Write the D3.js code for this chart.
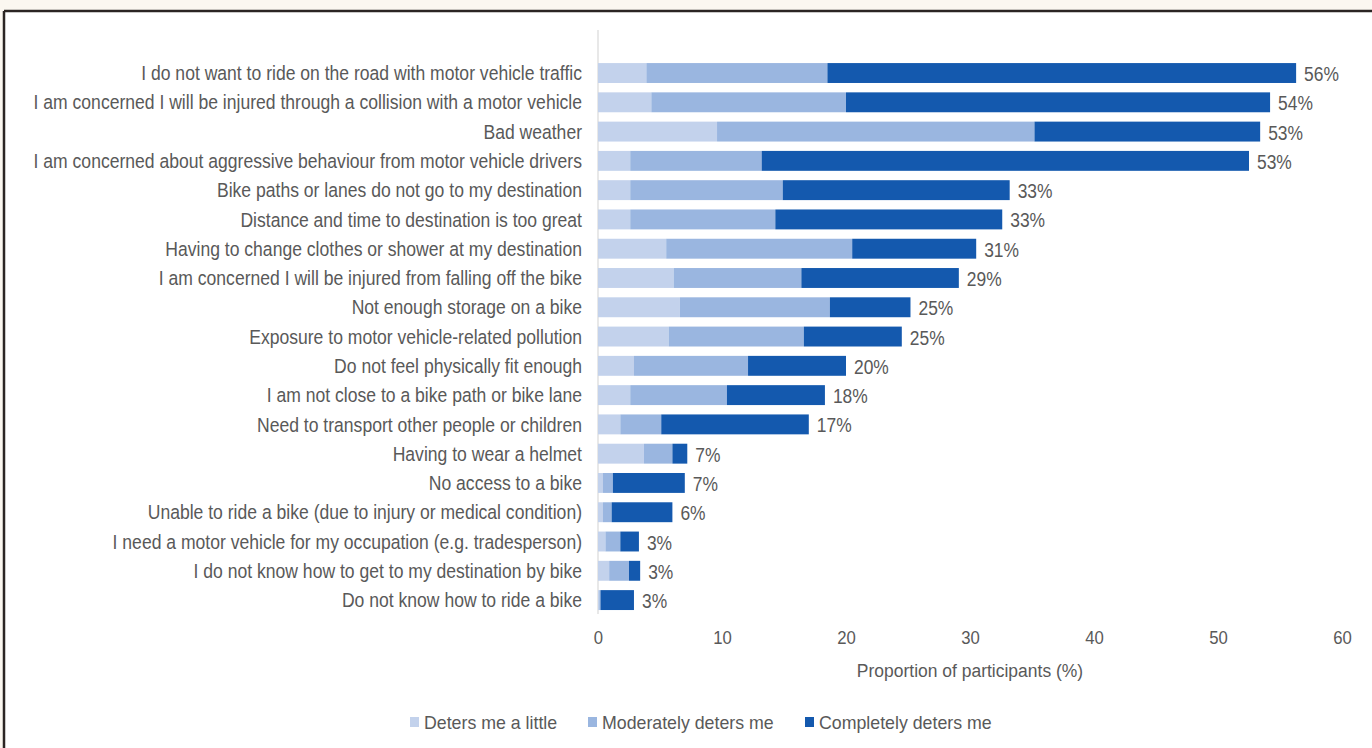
<!DOCTYPE html>
<html>
<head>
<meta charset="utf-8">
<script src="https://cdn.jsdelivr.net/npm/d3@7"></script>
<style>
  html, body { margin: 0; padding: 0; background: #fbf7f0; }
  svg text { font-family: "Liberation Sans", Arial, sans-serif; fill: #595959; }
</style>
</head>
<body>
<svg id="chart" width="1372" height="748"></svg>
<script>
// categories, top to bottom
var categories = [
  "I do not want to ride on the road with motor vehicle traffic",
  "I am concerned I will be injured through a collision with a motor vehicle",
  "Bad weather",
  "I am concerned about aggressive behaviour from motor vehicle drivers",
  "Bike paths or lanes do not go to my destination",
  "Distance and time to destination is too great",
  "Having to change clothes or shower at my destination",
  "I am concerned I will be injured from falling off the bike",
  "Not enough storage on a bike",
  "Exposure to motor vehicle-related pollution",
  "Do not feel physically fit enough",
  "I am not close to a bike path or bike lane",
  "Need to transport other people or children",
  "Having to wear a helmet",
  "No access to a bike",
  "Unable to ride a bike (due to injury or medical condition)",
  "I need a motor vehicle for my occupation (e.g. tradesperson)",
  "I do not know how to get to my destination by bike",
  "Do not know how to ride a bike"
];
var seriesNames = ["Deters me a little", "Moderately deters me", "Completely deters me"];
var little     = [3.9, 4.3, 9.6, 2.6, 2.6, 2.6, 5.5, 6.1, 6.6, 5.7, 2.9, 2.6, 1.8, 3.7, 0.4, 0.4, 0.6, 0.9, 0.1];
var moderately = [14.6, 15.7, 25.6, 10.6, 12.3, 11.7, 15.0, 10.3, 12.1, 10.9, 9.2, 7.8, 3.3, 2.3, 0.8, 0.7, 1.2, 1.6, 0.1];
var completely = [37.8, 34.2, 18.2, 39.3, 18.3, 18.3, 10.0, 12.7, 6.5, 7.9, 7.9, 7.9, 11.9, 1.2, 5.8, 4.9, 1.5, 0.9, 2.7];
var totalLabels = ["56%", "54%", "53%", "53%", "33%", "33%", "31%", "29%", "25%", "25%", "20%", "18%", "17%", "7%", "7%", "6%", "3%", "3%", "3%"];
var xTicks = [0, 10, 20, 30, 40, 50, 60];

var colors = ["#c3d2ec", "#9ab6e0", "#1459ae"];

var svg = d3.select("#chart");

// the source font is a condensed sans, squeeze Liberation Sans to match
function squeeze(sel, x, y, sx) {
  sel.attr("transform", "translate(" + x + "," + y + ") scale(" + sx + ",1)");
}

// white card with dark top/left edge
svg.append("rect").attr("x", 4).attr("y", 11).attr("width", 1372).attr("height", 748)
  .attr("fill", "#ffffff");
svg.append("line").attr("x1", 4).attr("x2", 1372).attr("y1", 11).attr("y2", 11)
  .attr("stroke", "#2b2523").attr("stroke-width", 2.5);
svg.append("line").attr("x1", 4).attr("x2", 4).attr("y1", 11).attr("y2", 748)
  .attr("stroke", "#2b2523").attr("stroke-width", 2.5);

var x = d3.scaleLinear().domain([0, 60]).range([598, 1342]);
var y = d3.scaleBand().domain(categories).range([53.7, 619.4]).padding(0.32);

var rows = categories.map(function(c, i) {
  return { cat: c, little: little[i], moderately: moderately[i], completely: completely[i], label: totalLabels[i] };
});
var stack = d3.stack().keys(["little", "moderately", "completely"])(rows);

// vertical axis line
svg.append("line").attr("x1", x(0)).attr("x2", x(0)).attr("y1", 30).attr("y2", 614)
  .attr("stroke", "#d9d9d9").attr("stroke-width", 1.2);

svg.selectAll("g.series")
  .data(stack)
  .enter().append("g")
  .attr("class", "series")
  .attr("fill", function(d, i) { return colors[i]; })
  .selectAll("rect")
  .data(function(d) { return d; })
  .enter().append("rect")
  .attr("x", function(d) { return x(d[0]); })
  .attr("width", function(d) { return x(d[1]) - x(d[0]); })
  .attr("y", function(d) { return y(d.data.cat); })
  .attr("height", y.bandwidth());

// category labels
svg.selectAll("text.cat")
  .data(categories)
  .enter().append("text")
  .attr("class", "cat")
  .attr("dy", "0.35em")
  .attr("text-anchor", "end")
  .style("font-size", "20.5px")
  .each(function(d) { squeeze(d3.select(this), 582, y(d) + y.bandwidth() / 2, 0.857); })
  .text(function(d) { return d; });

// total labels
svg.selectAll("text.total")
  .data(rows)
  .enter().append("text")
  .attr("class", "total")
  .attr("dy", "0.35em")
  .style("font-size", "20px")
  .each(function(d) {
    squeeze(d3.select(this), x(d.little + d.moderately + d.completely) + 8, y(d.cat) + y.bandwidth() / 2 + 1, 0.87);
  })
  .text(function(d) { return d.label; });

// x axis
var xAxis = d3.axisBottom(x).tickValues(xTicks).tickSize(0).tickPadding(0);
var gx = svg.append("g").attr("transform", "translate(0,630)").call(xAxis);
gx.select(".domain").remove();
gx.selectAll("text")
  .style("font-size", "19px")
  .attr("fill", null)
  .attr("y", null)
  .attr("dy", "0.71em")
  .attr("transform", "scale(0.88,1)");

svg.append("text")
  .attr("dy", "0.35em")
  .attr("text-anchor", "middle")
  .style("font-size", "19px")
  .call(squeeze, 970, 670, 0.92)
  .text("Proportion of participants (%)");

// legend
var legendX = [410, 588, 805];
var legend = svg.selectAll("g.legend")
  .data(seriesNames)
  .enter().append("g")
  .attr("class", "legend")
  .attr("transform", function(d, i) { return "translate(" + legendX[i] + ",722)"; });
legend.append("rect").attr("x", 0).attr("y", -5).attr("width", 9).attr("height", 10)
  .attr("fill", function(d, i) { return colors[i]; });
legend.append("text").attr("dy", "0.35em")
  .style("font-size", "19px")
  .call(squeeze, 14, 0, 0.935)
  .text(function(d) { return d; });
</script>
</body>
</html>
